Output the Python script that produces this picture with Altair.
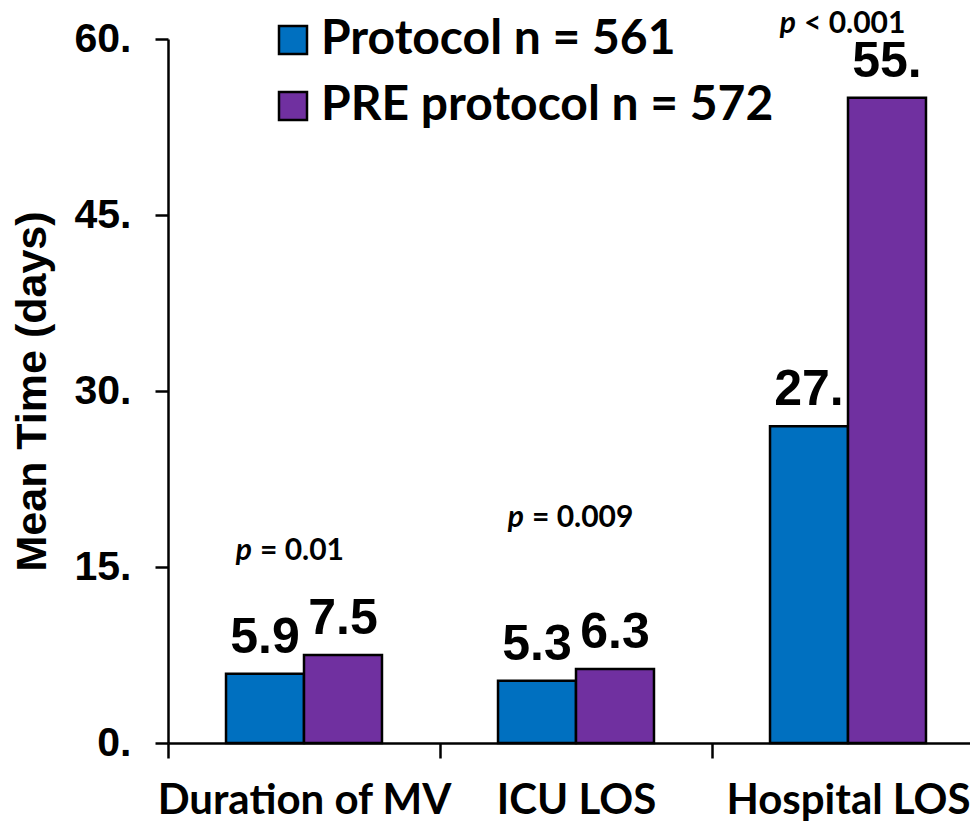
import altair as alt
import pandas as pd

categories = ["Duration of MV", "ICU LOS", "Hospital LOS"]
series = ["Protocol n = 561", "PRE protocol n = 572"]
protocol_values = [5.9, 5.3, 27.0]
pre_values = [7.5, 6.3, 55.0]
protocol_labels = ["5.9", "5.3", "27."]
pre_labels = ["7.5", "6.3", "55."]
p_symbols = ["p", "p", "p"]
p_texts = ["= 0.01", "= 0.009", "< 0.001"]
p_label_y = [15.6, 18.4, 60.5]
y_ticks = [0, 15, 30, 45, 60]
y_tick_labels = ["0.", "15.", "30.", "45.", "60."]
colors = ["#0070C0", "#7030A0"]

rows = []
for i, c in enumerate(categories):
    rows.append(dict(cat=c, series=series[0], value=protocol_values[i], label=protocol_labels[i]))
    rows.append(dict(cat=c, series=series[1], value=pre_values[i], label=pre_labels[i]))
df = pd.DataFrame(rows)
pdf = pd.DataFrame(dict(cat=categories, p=p_symbols, text=p_texts, value=p_label_y))

label_expr = " : ".join(f"datum.value == {v} ? '{l}'" for v, l in zip(y_ticks, y_tick_labels)) + " : ''"

x_enc = alt.X(
    "cat:N",
    sort=categories,
    scale=alt.Scale(paddingInner=0, paddingOuter=0, range=[0, 816]),
    axis=alt.Axis(
        title=None, labelAngle=0, tickBand="extent",
        labelFont="Lato", labelFontWeight="bold", labelFontSize=42, labelColor="black",
        labelPadding=22, tickSize=15, tickWidth=2.5, tickColor="black",
        domainColor="black", domainWidth=2.5, labelLimit=0,
    ),
)
y_enc = alt.Y(
    "value:Q",
    scale=alt.Scale(domain=[0, 60], nice=False),
    axis=alt.Axis(
        values=y_ticks, labelExpr=label_expr, title="Mean Time (days)",
        titleFont="Liberation Sans", titleFontSize=43, titleFontWeight="bold", titleColor="black",
        titlePadding=20,
        labelFont="Liberation Sans", labelFontSize=41, labelFontWeight="bold", labelColor="black",
        labelPadding=24, tickSize=13, tickWidth=2.5, tickColor="black",
        domainColor="black", domainWidth=2.5, grid=False,
    ),
)
xoff = alt.XOffset("series:N", sort=series,
                   scale=alt.Scale(domain=series, paddingInner=0, paddingOuter=0.744))

base = alt.Chart(df)
bars = base.mark_bar(stroke="black", strokeWidth=2.5).encode(
    x=x_enc,
    xOffset=xoff,
    y=y_enc,
    color=alt.Color(
        "series:N", sort=series,
        scale=alt.Scale(domain=series, range=colors),
        legend=alt.Legend(
            title=None, orient="none", legendX=101, legendY=-23,
            symbolType="square", symbolSize=784, symbolStrokeColor="black",
            symbolStrokeWidth=2.5, symbolOpacity=1,
            labelFont="Lato", labelFontSize=48, labelFontWeight="bold", labelColor="black",
            labelOffset=4, rowPadding=18, padding=0, labelLimit=0,
        ),
    ),
)
values_text = base.mark_text(
    font="Liberation Sans", fontSize=50, fontWeight="bold",
    baseline="alphabetic", dy=-21, color="black",
).encode(
    x=alt.X("cat:N", sort=categories),
    xOffset=xoff,
    y=alt.Y("value:Q"),
    text="label:N",
)
p_base = alt.Chart(pdf)
p_sym = p_base.mark_text(
    font="Lato", fontSize=30, fontWeight="bold", fontStyle="italic",
    align="right", baseline="alphabetic", dx=-52, color="black",
).encode(x=alt.X("cat:N", sort=categories), y=alt.Y("value:Q"), text="p:N")
p_txt = p_base.mark_text(
    font="Lato", fontSize=30, fontWeight="bold",
    align="left", baseline="alphabetic", dx=-44, color="black",
).encode(x=alt.X("cat:N", sort=categories), y=alt.Y("value:Q"), text="text:N")

chart = alt.layer(bars, values_text, p_sym, p_txt).properties(
    width=802, height=704,
    autosize=alt.AutoSizeParams(type="none"),
    padding={"left": 160, "top": 31, "right": 0, "bottom": 78},
    background="white",
).configure_view(strokeWidth=0)

chart.save("out.html", embed_options={"renderer": "svg", "actions": False})
